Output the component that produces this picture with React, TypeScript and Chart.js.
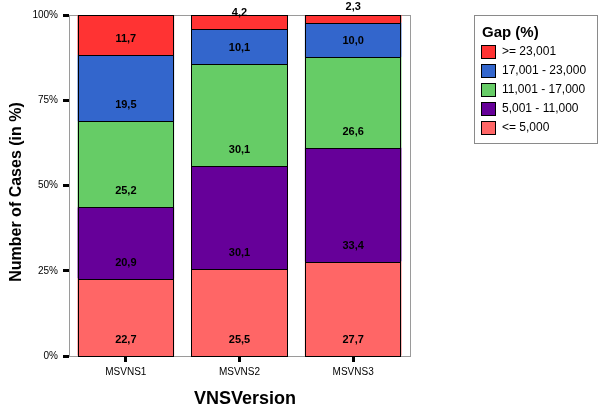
import React, { useEffect, useRef } from "react";
import { Chart, registerables } from "chart.js";

Chart.register(...registerables);

const categories = ["MSVNS1", "MSVNS2", "MSVNS3"];
const seriesNames = ["<= 5,000", "5,001 - 11,000", "11,001 - 17,000", "17,001 - 23,000", ">= 23,001"];
const le5000 = [22.7, 25.5, 27.7];
const s5001to11000 = [20.9, 30.1, 33.4];
const s11001to17000 = [25.2, 30.1, 26.6];
const s17001to23000 = [19.5, 10.1, 10.0];
const ge23001 = [11.7, 4.2, 2.3];
const seriesValues = [le5000, s5001to11000, s11001to17000, s17001to23000, ge23001];
const seriesColors = ["#ff6666", "#660099", "#66cc66", "#3366cc", "#ff3333"];
const yTicks = [0, 25, 50, 75, 100];
const legendTitle = "Gap (%)";
const yTitle = "Number of Cases (in %)";
const xTitle = "VNSVersion";

const FONT = "'Liberation Sans', Arial, Helvetica, sans-serif";

const framePlugin = {
  id: "frame",
  beforeDatasetsDraw(chart: any) {
    const { ctx, chartArea } = chart;
    ctx.save();
    ctx.strokeStyle = "#9a9a9a";
    ctx.lineWidth = 1;
    ctx.strokeRect(chartArea.left + 0.5, chartArea.top + 0.5, chartArea.right - chartArea.left, chartArea.bottom - chartArea.top);
    ctx.restore();
  },
};

const labelPlugin = {
  id: "segLabels",
  afterDatasetsDraw(chart: any) {
    const { ctx } = chart;
    ctx.save();
    // crisp fills and outlines aligned to the pixel grid
    ctx.lineWidth = 1;
    chart.data.datasets.forEach((ds: any, di: number) => {
      const meta = chart.getDatasetMeta(di);
      meta.data.forEach((bar: any) => {
        const l = Math.round(bar.x - bar.width / 2);
        const r = Math.round(bar.x + bar.width / 2);
        const t = Math.round(bar.y);
        const b = Math.round(bar.base);
        ctx.fillStyle = ds.backgroundColor;
        ctx.fillRect(l, t, r - l, b - t);
        ctx.strokeStyle = "#000";
        ctx.strokeRect(l + 0.5, t + 0.5, r - l - 1, b - t);
      });
    });
    ctx.font = `bold 11px ${FONT}`;
    ctx.fillStyle = "#000";
    ctx.textAlign = "center";
    ctx.textBaseline = "middle";
    chart.data.datasets.forEach((ds: any, di: number) => {
      const meta = chart.getDatasetMeta(di);
      meta.data.forEach((bar: any, i: number) => {
        const v = ds.data[i];
        const txt = v.toFixed(1).replace(".", ",");
        ctx.fillText(txt, bar.x, bar.base - 16);
      });
    });
    ctx.restore();
  },
};

const titlesPlugin = {
  id: "axisTitles",
  afterDraw(chart: any) {
    const { ctx } = chart;
    ctx.save();
    ctx.fillStyle = "#000";
    ctx.textAlign = "center";
    ctx.textBaseline = "middle";
    ctx.font = `bold 18px ${FONT}`;
    ctx.fillText(xTitle, 245, 399);
    ctx.translate(17, 192);
    ctx.rotate(-Math.PI / 2);
    ctx.font = `bold 16px ${FONT}`;
    ctx.fillText(yTitle, 0, 0);
    ctx.restore();
  },
};

const legendPlugin = {
  id: "boxLegend",
  afterDraw(chart: any) {
    const { ctx } = chart;
    const x = 474, y = 15, w = 123, h = 128;
    ctx.save();
    ctx.fillStyle = "#fff";
    ctx.fillRect(x, y, w, h);
    ctx.strokeStyle = "#8a8a8a";
    ctx.lineWidth = 1;
    ctx.strokeRect(x + 0.5, y + 0.5, w, h);
    ctx.fillStyle = "#000";
    ctx.font = `bold 15px ${FONT}`;
    ctx.textAlign = "left";
    ctx.textBaseline = "middle";
    ctx.fillText(legendTitle, 482, 33);
    ctx.font = `12px ${FONT}`;
    const n = seriesNames.length;
    for (let k = 0; k < n; k++) {
      const idx = n - 1 - k;
      const sy = 45 + k * 19;
      ctx.fillStyle = seriesColors[idx];
      ctx.fillRect(481, sy, 14, 13);
      ctx.strokeStyle = "#000";
      ctx.strokeRect(481.5, sy + 0.5, 14, 13);
      ctx.fillStyle = "#000";
      ctx.fillText(seriesNames[idx], 502, sy + 7);
    }
    ctx.restore();
  },
};

export default function App() {
  const ref = useRef<HTMLCanvasElement>(null);
  useEffect(() => {
    if (!ref.current) return;
    Chart.defaults.font.family = FONT;
    const chart = new Chart(ref.current, {
      type: "bar",
      data: {
        labels: categories,
        datasets: seriesValues.map((vals, i) => ({
          label: seriesNames[i],
          data: vals,
          backgroundColor: seriesColors[i],
          borderWidth: 0,
          barPercentage: 0.85,
          categoryPercentage: 1,
        })),
      },
      options: {
        responsive: false,
        animation: false,
        devicePixelRatio: 1,
        layout: { padding: { left: 0, top: 15, right: 190, bottom: 0 } },
        plugins: { legend: { display: false }, tooltip: { enabled: false } },
        scales: {
          x: {
            stacked: true,
            offset: true,
            grid: { display: true, offset: false, drawOnChartArea: false, drawTicks: true, tickLength: 6, tickWidth: 3, tickColor: "#000" },
            border: { display: false },
            ticks: { color: "#000", font: { size: 10 }, padding: 4, maxRotation: 0 },
            title: { display: false },
            afterFit(scale: any) { scale.height = 52; },
          },
          y: {
            stacked: true,
            min: 0,
            max: 100,
            afterBuildTicks(scale: any) { scale.ticks = yTicks.map((v) => ({ value: v })); },
            grid: { display: true, drawOnChartArea: false, drawTicks: true, tickLength: 6, tickWidth: 3, tickColor: "#000" },
            border: { display: false },
            ticks: { color: "#000", font: { size: 10 }, padding: 5, callback: (v: any) => v + "%" },
            title: { display: false },
            afterFit(scale: any) { scale.width = 69; },
          },
        },
      } as any,
      plugins: [framePlugin, labelPlugin, titlesPlugin, legendPlugin],
    });
    return () => chart.destroy();
  }, []);
  return (
    <div style={{ position: "absolute", left: 0, top: 0, width: 600, height: 408, background: "#fff" }}>
      <canvas ref={ref} width={600} height={408} />
    </div>
  );
}
